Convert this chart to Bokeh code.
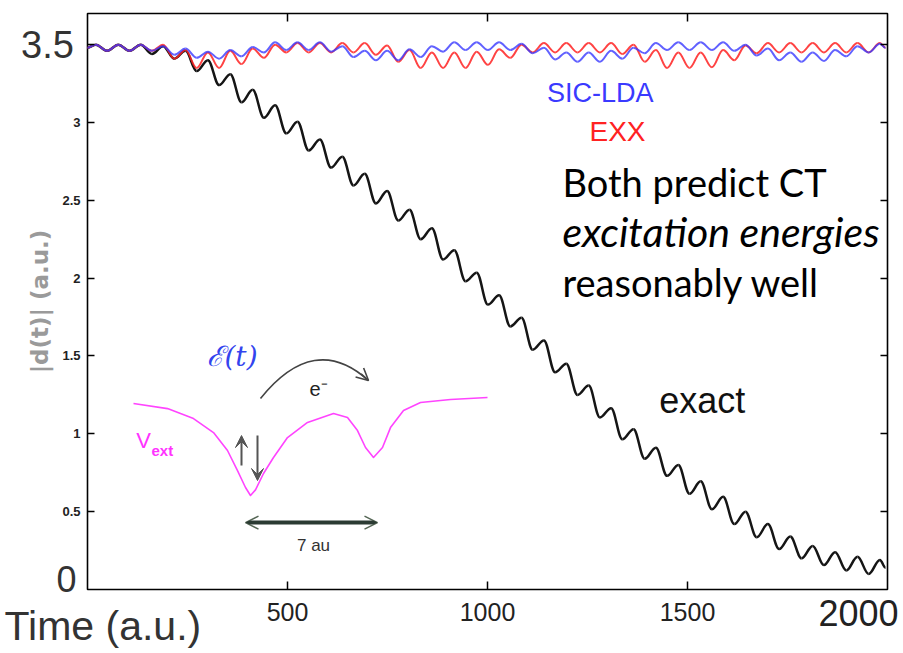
import numpy as np
from bokeh.plotting import figure
from bokeh.models import (Range1d, LinearAxis, Label, Arrow, OpenHead, VeeHead,
                          FixedTicker, ColumnDataSource)
from bokeh.embed import file_html
from bokeh.resources import INLINE

# ---------------- data ----------------
# sample times of the oscillation extrema (a.u.)
time_ext = [0, 21, 49, 77, 105, 133, 161, 189, 217, 245, 273, 301, 329, 357, 385, 413,
            441, 469, 497, 525, 553, 581, 609, 637, 665, 693, 721, 749, 777, 805, 833,
            861, 889, 917, 945, 973, 1001, 1029, 1057, 1085, 1113, 1141, 1169, 1197,
            1225, 1253, 1281, 1309, 1337, 1365, 1393, 1421, 1449, 1477, 1505, 1533,
            1561, 1589, 1617, 1645, 1673, 1701, 1729, 1757, 1785, 1813, 1841, 1869,
            1897, 1925, 1953, 1981, 1995]

exact_d = [3.48,
           3.50, 3.46, 3.50, 3.46, 3.50, 3.44, 3.49, 3.41, 3.46, 3.33,
           3.40, 3.24, 3.31, 3.13, 3.21, 3.03, 3.11, 2.93, 3.005, 2.82,
           2.89, 2.71, 2.78, 2.595, 2.67, 2.48, 2.56, 2.37, 2.44, 2.25,
           2.32, 2.12, 2.18, 1.98, 2.035, 1.83, 1.89, 1.69, 1.745, 1.54,
           1.60, 1.395, 1.45, 1.25, 1.31, 1.105, 1.165, 0.965, 1.03, 0.84,
           0.91, 0.73, 0.80, 0.615, 0.695, 0.515, 0.595, 0.42, 0.50, 0.335,
           0.42, 0.26, 0.34, 0.20, 0.28, 0.157, 0.24, 0.122, 0.21, 0.10,
           0.19,
           0.14]

sic_lda_d = [3.48,
             3.50, 3.46, 3.50, 3.46, 3.50, 3.46, 3.49, 3.435, 3.475, 3.415,
             3.455, 3.41, 3.465, 3.425, 3.485, 3.45, 3.515, 3.465, 3.515, 3.465,
             3.515, 3.455, 3.49, 3.42, 3.46, 3.40, 3.46, 3.40, 3.47, 3.42,
             3.49, 3.455, 3.515, 3.465, 3.515, 3.465, 3.515, 3.465, 3.505, 3.445,
             3.48, 3.405, 3.45, 3.39, 3.45, 3.39, 3.46, 3.41, 3.48, 3.445,
             3.51, 3.465, 3.515, 3.465, 3.515, 3.465, 3.515, 3.46, 3.50, 3.43,
             3.475, 3.40, 3.45, 3.39, 3.45, 3.395, 3.465, 3.425, 3.49, 3.45,
             3.505,
             3.48]

exx_d = [3.48,
         3.50, 3.46, 3.50, 3.46, 3.50, 3.46, 3.50, 3.41, 3.465, 3.35,
         3.45, 3.35, 3.46, 3.375, 3.475, 3.415, 3.50, 3.45, 3.51, 3.45,
         3.51, 3.45, 3.51, 3.45, 3.51, 3.435, 3.495, 3.39, 3.465, 3.35,
         3.45, 3.35, 3.45, 3.35, 3.455, 3.37, 3.47, 3.415, 3.50, 3.45,
         3.51, 3.45, 3.51, 3.45, 3.51, 3.45, 3.51, 3.44, 3.50, 3.39,
         3.465, 3.35, 3.45, 3.35, 3.45, 3.355, 3.465, 3.40, 3.495, 3.445,
         3.51, 3.45, 3.51, 3.45, 3.51, 3.45, 3.51, 3.45, 3.51, 3.45,
         3.51,
         3.48]

x_ticks = [500, 1000, 1500]
y_ticks = [0.5, 1, 1.5, 2, 2.5, 3, 3.5]
y_tick_labels = {0.5: "0.5", 1: "1", 1.5: "1.5", 2: "2", 2.5: "2.5", 3: "3", 3.5: ""}
x_min, x_max = 0, 2000
y_min, y_max = 0, 3.7

# inset sketch: external potential drawn in the axes' units
vext_t = [115, 200, 265, 315, 350, 375, 395, 407.5, 420, 440, 465, 500, 550, 615,
          650, 675, 695, 715, 737.5, 757.5, 790, 832.5, 907.5, 1000]
vext_v = [1.195, 1.162, 1.098, 1.008, 0.893, 0.764, 0.655, 0.604, 0.640, 0.745,
          0.848, 0.976, 1.073, 1.130, 1.105, 1.021, 0.912, 0.848, 0.912, 1.040,
          1.150, 1.201, 1.220, 1.233]

assert len(time_ext) == len(exact_d) == len(sic_lda_d) == len(exx_d)


def bez_source(t, y, k=0.3634):
    t = np.asarray(t, float)
    y = np.asarray(y, float)
    dt = np.diff(t)
    return ColumnDataSource(dict(
        x0=t[:-1], y0=y[:-1], x1=t[1:], y1=y[1:],
        cx0=t[:-1] + k * dt, cy0=y[:-1], cx1=t[1:] - k * dt, cy1=y[1:]))


# the frame spans the whole canvas; the plot box is drawn at [0,2000]x[0,3.7]
W, H = 903, 653
BOX_L, BOX_R, BOX_T, BOX_B = 87, 887, 13, 589
sx = (BOX_R - BOX_L) / (x_max - x_min)
sy = (BOX_B - BOX_T) / (y_max - y_min)
p = figure(width=W, height=H, output_backend="svg", toolbar_location=None,
           x_range=Range1d(x_min - BOX_L / sx, x_max + (W - BOX_R) / sx),
           y_range=Range1d(y_min - (H - BOX_B) / sy, y_max + BOX_T / sy),
           min_border=0, min_border_left=0, min_border_right=0,
           min_border_top=0, min_border_bottom=0)
p.xgrid.visible = False
p.ygrid.visible = False
p.outline_line_color = None
p.background_fill_color = "white"
p.border_fill_color = "white"

BIG = "Liberation Sans"

# bottom axis (fixed on y = 0)
xa = p.xaxis[0]
xa.fixed_location = y_min
xa.bounds = (x_min, x_max)
xa.ticker = FixedTicker(ticks=x_ticks)
xa.axis_line_color = None
xa.major_tick_in = 8
xa.major_tick_out = 0
xa.major_tick_line_width = 1.5
xa.minor_tick_line_color = None
xa.major_label_text_font = BIG
xa.major_label_text_font_size = "25px"
xa.major_label_text_color = "#222222"
xa.major_label_standoff = 13

# left axis (fixed on x = 0)
ya = p.yaxis[0]
ya.fixed_location = x_min
ya.bounds = (y_min, y_max)
ya.ticker = FixedTicker(ticks=y_ticks)
ya.major_label_overrides = y_tick_labels
ya.axis_line_color = None
ya.major_tick_in = 7
ya.major_tick_out = 0
ya.major_tick_line_width = 1.5
ya.minor_tick_line_color = None
ya.major_label_text_font = BIG
ya.major_label_text_font_style = "bold"
ya.major_label_text_font_size = "13px"
ya.major_label_text_color = "#222222"
ya.major_label_standoff = 7
ya.axis_label = "|d(t)| (a.u.)"
ya.axis_label_text_font = "DejaVu Sans"
ya.axis_label_text_font_style = "bold"
ya.axis_label_text_font_size = "23px"
ya.axis_label_text_color = "#9a9a9a"
ya.axis_label_standoff = 6

# top and right ticks (no labels)
top = LinearAxis(fixed_location=y_max, bounds=(x_min, x_max),
                 ticker=FixedTicker(ticks=x_ticks),
                 major_label_overrides={t: "" for t in x_ticks},
                 axis_line_color=None, major_tick_in=8, major_tick_out=0,
                 major_tick_line_width=1.5, minor_tick_line_color=None,
                 major_label_standoff=0)
p.add_layout(top, "above")
right = LinearAxis(fixed_location=x_max, bounds=(y_min, y_max),
                   ticker=FixedTicker(ticks=y_ticks),
                   major_label_overrides={t: "" for t in y_ticks},
                   axis_line_color=None, major_tick_in=7, major_tick_out=0,
                   major_tick_line_width=1.5, minor_tick_line_color=None,
                   major_label_standoff=0)
p.add_layout(right, "right")

# plot box
p.quad(left=[x_min], right=[x_max], bottom=[y_min], top=[y_max], fill_color=None,
       line_color="black", line_width=1.6)

# series
p.bezier("x0", "y0", "x1", "y1", "cx0", "cy0", "cx1", "cy1",
         source=bez_source(time_ext, exact_d), line_color="#151515", line_width=2.5)
p.bezier("x0", "y0", "x1", "y1", "cx0", "cy0", "cx1", "cy1",
         source=bez_source(time_ext, exx_d), line_color="#ff2222", line_width=2,
         line_alpha=0.85)
p.bezier("x0", "y0", "x1", "y1", "cx0", "cy0", "cx1", "cy1",
         source=bez_source(time_ext, sic_lda_d), line_color="#3a3aff", line_width=2,
         line_alpha=0.8)

# series labels
p.add_layout(Label(x=1282, y=3.19, text="SIC-LDA", text_font=BIG, text_font_size="27px",
                   text_color="#3a3aff", text_align="center", text_baseline="middle"))
p.add_layout(Label(x=1325, y=2.94, text="EXX", text_font=BIG, text_font_size="28px",
                   text_color="#ff2222", text_align="center", text_baseline="middle"))
p.add_layout(Label(x=1537, y=1.214, text="exact", text_font=BIG, text_font_size="36px",
                   text_color="#111111", text_align="center", text_baseline="middle"))

# note text
for yy, txt, st, fs in [(2.615, "Both predict CT", "normal", "38px"),
                        (2.30, "excitation energies", "italic", "41px"),
                        (1.975, "reasonably well", "normal", "38px")]:
    p.add_layout(Label(x=1187.5, y=yy, text=txt, text_font="Lato", text_font_size=fs,
                       text_font_style=st, text_color="black", text_align="left",
                       text_baseline="alphabetic"))

# inset sketch
p.line(vext_t, vext_v, line_color="#ff44ff", line_width=1.6, line_join="round")
p.add_layout(Label(x=140, y=0.957, text="V", text_font=BIG, text_font_size="22px",
                   text_color="#ff33ff", text_align="center", text_baseline="middle"))
p.add_layout(Label(x=160, y=0.893, text="ext", text_font=BIG, text_font_size="15px",
                   text_font_style="bold", text_color="#ff33ff", text_align="left",
                   text_baseline="middle"))
p.add_layout(Label(x=362.5, y=1.497, text="ℰ(t)", text_font="DejaVu Serif",
                   text_font_size="28px", text_font_style="italic", text_color="#3344ee",
                   text_align="center", text_baseline="middle"))
p.quadratic(x0=[432.5], y0=[1.227], x1=[702.5], y1=[1.342], cx=[567.5], cy=[1.657],
            line_color="#444444", line_width=1.6)
p.add_layout(Arrow(end=OpenHead(size=12, line_color="#444444", line_width=1.6),
                   x_start=684, y_start=1.385, x_end=702.5, y_end=1.342,
                   line_color="#444444", line_width=1.6))
p.add_layout(Label(x=577.5, y=1.291, text="e⁻", text_font=BIG, text_font_size="20px",
                   text_color="#222222", text_align="center", text_baseline="middle"))
p.add_layout(Arrow(end=VeeHead(size=12, fill_color="#555555", line_color="#555555"),
                   x_start=385, y_start=0.796, x_end=385, y_end=0.989,
                   line_color="#555555", line_width=2))
p.add_layout(Arrow(end=VeeHead(size=12, fill_color="#555555", line_color="#555555"),
                   x_start=425, y_start=0.989, x_end=425, y_end=0.700,
                   line_color="#555555", line_width=2))
p.add_layout(Arrow(start=OpenHead(size=13, line_color="#556655", line_width=1.5),
                   end=OpenHead(size=13, line_color="#556655", line_width=1.5),
                   x_start=395, y_start=0.43, x_end=725, y_end=0.43,
                   line_color="#2b3b33", line_width=4))
p.add_layout(Label(x=565, y=0.283, text="7 au", text_font=BIG, text_font_size="17px",
                   text_color="#333333", text_align="center", text_baseline="middle"))

# large overlaid tick labels and axis title
p.add_layout(Label(x=-100, y=3.5, text="3.5", text_font=BIG, text_font_size="38px",
                   text_color="#333333", text_align="center", text_baseline="middle"))
p.add_layout(Label(x=-52.5, y=0.07, text="0", text_font=BIG, text_font_size="36px",
                   text_color="#333333", text_align="center", text_baseline="middle"))
p.add_layout(Label(x=1927.5, y=-0.148, text="2000", text_font=BIG, text_font_size="36px",
                   text_color="#222222", text_align="center", text_baseline="middle"))
p.add_layout(Label(x=-207.5, y=-0.235, text="Time (a.u.)", text_font=BIG,
                   text_font_size="41px", text_color="#333333", text_align="left",
                   text_baseline="middle"))

open("out.html", "w").write(file_html(p, INLINE))
